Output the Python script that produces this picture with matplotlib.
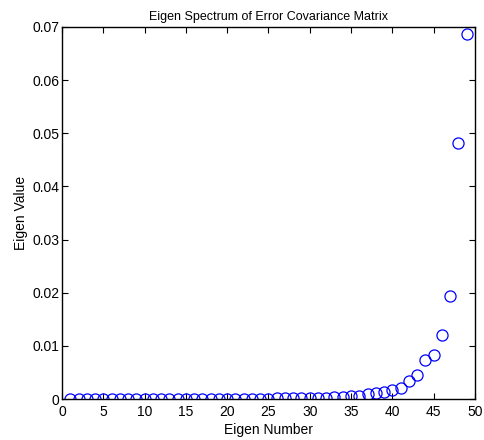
import matplotlib
matplotlib.use("Agg")
import matplotlib.pyplot as plt
import numpy as np

plt.rcParams["font.family"] = ["Liberation Sans", "DejaVu Sans"]

# eigenvalues, sorted ascending
eig_number = np.arange(1, 50)
eig_value = [
    0.00001, 0.00001, 0.00001, 0.00001, 0.00001, 0.00001, 0.00001, 0.00001,
    0.00001, 0.00001, 0.00002, 0.00002, 0.00002, 0.00002, 0.00003, 0.00003,
    0.00003, 0.00004, 0.00004, 0.00005, 0.00005, 0.00006, 0.00007, 0.00008,
    0.00009, 0.00011, 0.00013, 0.00015, 0.00018, 0.0002, 0.00023, 0.00027,
    0.0003, 0.0004, 0.0005, 0.0006, 0.0009, 0.0011, 0.0014, 0.0017,
    0.0020, 0.0034, 0.0045, 0.0073, 0.0082, 0.0120, 0.0193, 0.0482, 0.0687,
]

fig = plt.figure(figsize=(4.85, 4.4), dpi=100)
ax = fig.add_axes([0.128, 0.093, 0.851, 0.846])

ax.plot(eig_number, eig_value, "o", mfc="none", mec="blue", ms=8, mew=0.9)

ax.set_xlim(0, 50)
ax.set_ylim(0, 0.07)
ax.set_xticks(np.arange(0, 51, 5))
ax.set_yticks(np.arange(0, 0.071, 0.01))
ax.set_yticklabels(["0"] + [f"{v:.2f}" for v in np.arange(0.01, 0.071, 0.01)])
ax.tick_params(direction="in", top=True, right=True, labelsize=10, length=4, pad=2)
ax.tick_params(axis="x", pad=4)
for s in ax.spines.values():
    s.set_linewidth(1.0)

ax.set_title("Eigen Spectrum of Error Covariance Matrix", fontsize=9, pad=5)
ax.set_xlabel("Eigen Number", fontsize=10, labelpad=3)
ax.set_ylabel("Eigen Value", fontsize=10, labelpad=3)

fig.savefig("out.png", dpi=100)
